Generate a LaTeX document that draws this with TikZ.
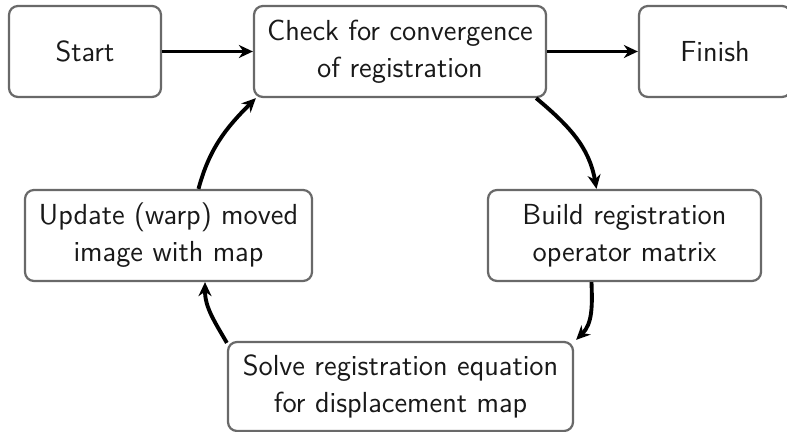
\documentclass[tikz,border=0pt]{standalone}
\usetikzlibrary{arrows.meta,calc}
\definecolor{boxline}{RGB}{105,105,105}
\definecolor{txt}{RGB}{25,25,25}
\begin{document}
\begin{tikzpicture}[x=0.4pt,y=-0.4pt,
  box/.style={draw=boxline,line width=0.9pt,rounded corners=3.6pt,fill=white,
    minimum height=36.4pt,inner sep=0pt,align=center,text=txt,
    font=\sffamily\fontsize{11.6}{14.8}\selectfont},
  arr/.style={line width=1.55pt,-{Stealth[length=5.6pt,width=5.2pt,inset=1.8pt]}}]
\useasboundingbox (0,0) rectangle (787,432);
\node[box,minimum width=60.8pt] (start) at (85,51.5) {Start};
\node[box,minimum width=116.8pt] (check) at (400,51.5) {Check for convergence\\of registration};
\node[box,minimum width=60.8pt] (finish) at (715,51.5) {Finish};
\node[box,minimum width=114.8pt] (update) at (168.5,235.5) {Update (warp) moved\\image with map};
\node[box,minimum width=109.2pt] (build) at (624.5,235.5) {Build registration\\operator matrix};
\node[box,minimum width=138pt,minimum height=35.6pt] (solve) at (400.5,386.5) {Solve registration equation\\for displacement map};
\draw[arr] (start.east) -- (check.west);
\draw[arr] (check.east) -- (finish.west);
\draw[arr] ($(check.south east)+(-11,0)$) to[out=-40,in=100] ($(build.north)+(-28,0)$);
\draw[arr] ($(build.south)+(-33,0)$) to[out=-88,in=45] ($(solve.north east)+(2,-1)$);
\draw[arr] ($(solve.north west)+(0,2)$) to[out=120,in=-90] ($(update.south)+(36.5,0)$);
\draw[arr] ($(update.north)+(30,0)$) to[out=75,in=-135] ($(check.south west)+(3,0)$);
\end{tikzpicture}
\end{document}
